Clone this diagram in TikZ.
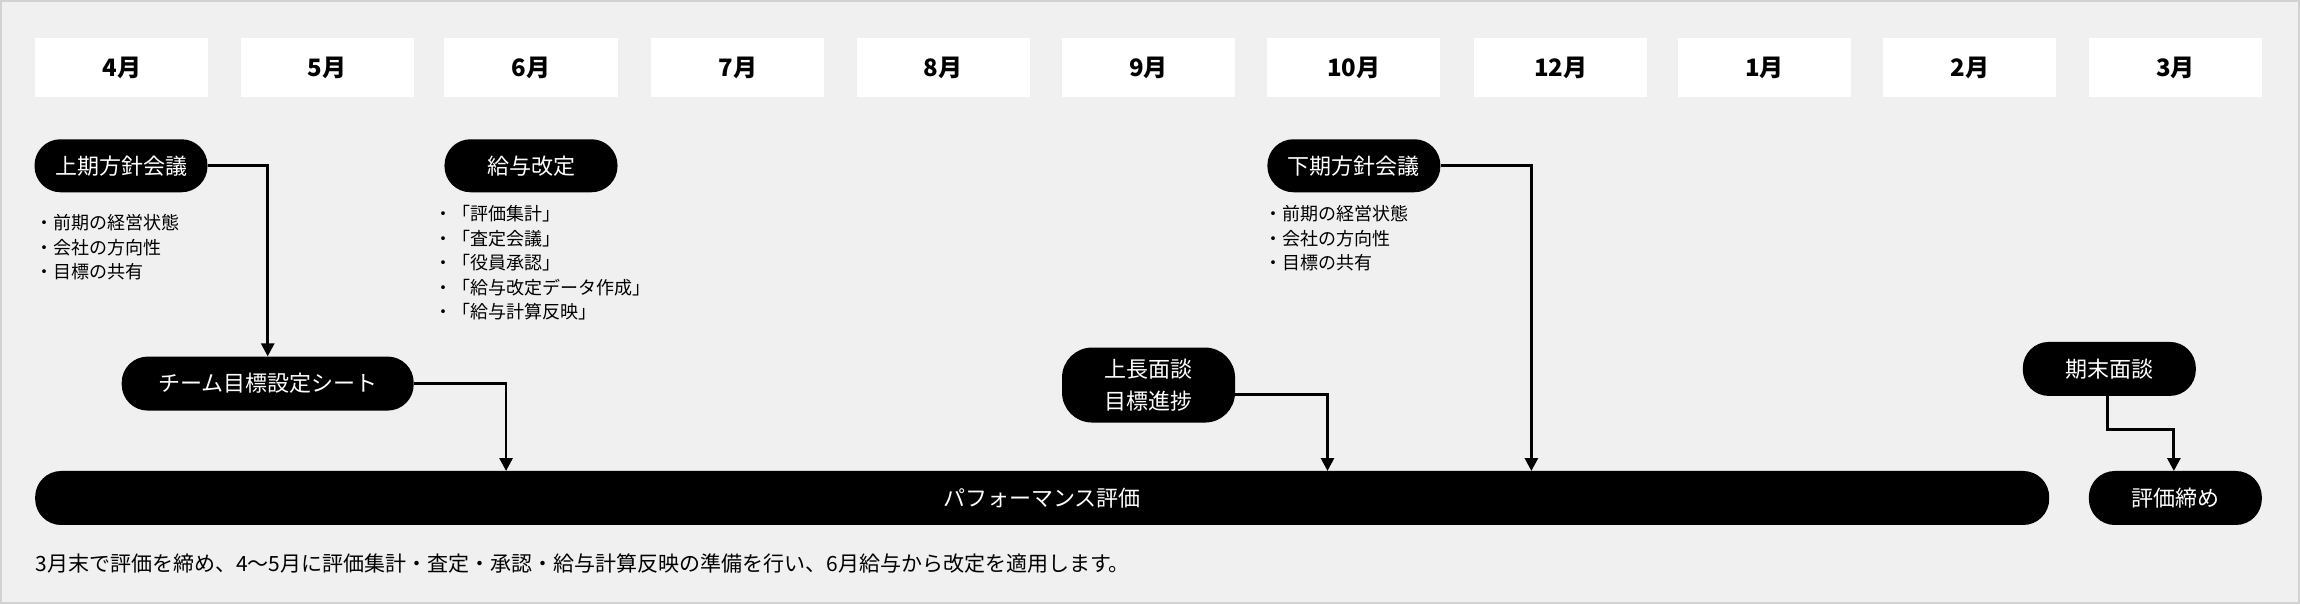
\documentclass[tikz,border=0pt]{standalone}
\usepackage{fontspec}
\setmainfont{Noto Sans CJK JP}
\usetikzlibrary{arrows.meta}
\begin{document}
\begin{tikzpicture}[x=1.4668pt,y=-1.4668pt,
  month/.style={fill=white,minimum width=173pt,minimum height=58.7pt,inner sep=0pt,font=\fontsize{24}{28}\selectfont\bfseries},
  pill/.style={fill=black,text=white,rounded corners=26pt,inner sep=0pt,font=\fontsize{22}{32}\selectfont,align=center},
  bul/.style={anchor=north west,inner sep=0pt,align=left,font=\fontsize{18}{24.5}\selectfont},
  conn/.style={line width=2.8pt,-{Triangle[length=13pt,width=13pt]}}]
\useasboundingbox (0,0) rectangle (1568,411.8);
\fill[gray!35] (0,0) rectangle (1568,411.8);
\fill[black!6] (1.5,1.5) rectangle (1566.5,410.3);
\foreach \x/\t [count=\i] in {83/4月,223/5月,362/6月,503/7月,643/8月,783/9月,923/10月,1064/12月,1203/1月,1343/2月,1483/3月}
  \node[month] (m\i) at (\x,46) {\t};
\node[pill,minimum width=173pt,minimum height=53pt] (kami) at (82.5,113) {上期方針会議};
\node[pill,minimum width=173pt,minimum height=53pt] (kyuyo) at (362,113) {給与改定};
\node[pill,minimum width=173pt,minimum height=53pt] (shimo) at (923,113) {下期方針会議};
\node[bul] (b1) at (24,146) {・前期の経営状態\\・会社の方向性\\・目標の共有};
\node[bul] (b2) at (296,140) {・「評価集計」\\・「査定会議」\\・「役員承認」\\・「給与改定データ作成」\\・「給与計算反映」};
\node[bul] (b3) at (862,140) {・前期の経営状態\\・会社の方向性\\・目標の共有};
\node[pill,minimum width=292pt,minimum height=54pt] (team) at (182.5,261.5) {チーム目標設定シート};
\node[pill,minimum width=173pt,minimum height=75pt,rounded corners=30pt] (jocho) at (783,262.5) {上長面談\\目標進捗};
\node[pill,minimum width=173pt,minimum height=54pt] (kimatsu) at (1438,251.5) {期末面談};
\node[pill,minimum width=2014pt,minimum height=54pt] (perf) at (710.5,339.5) {パフォーマンス評価};
\node[pill,minimum width=173pt,minimum height=54pt] (shime) at (1483,339.5) {評価締め};
\node[anchor=west,inner sep=0pt,font=\fontsize{21}{26}\selectfont] (cap) at (24,384) {3月末で評価を締め、4〜5月に評価集計・査定・承認・給与計算反映の準備を行い、6月給与から改定を適用します。};
\coordinate (p1) at (345,321.1);
\coordinate (p2) at (905,321.1);
\coordinate (p3) at (1044,321.1);
\coordinate (j1) at (842,269);
\coordinate (k1) at (1437,270);
\coordinate (k2) at (1482,293);
\coordinate (s1) at (1482,321.1);
\draw[conn] (kami.east) -| (team.north);
\draw[conn] (team.east) -| (p1);
\draw[conn] (j1) -| (p2);
\draw[conn] (shimo.east) -| (p3);
\draw[conn] (k1) |- (k2) -- (s1);
\end{tikzpicture}
\end{document}
